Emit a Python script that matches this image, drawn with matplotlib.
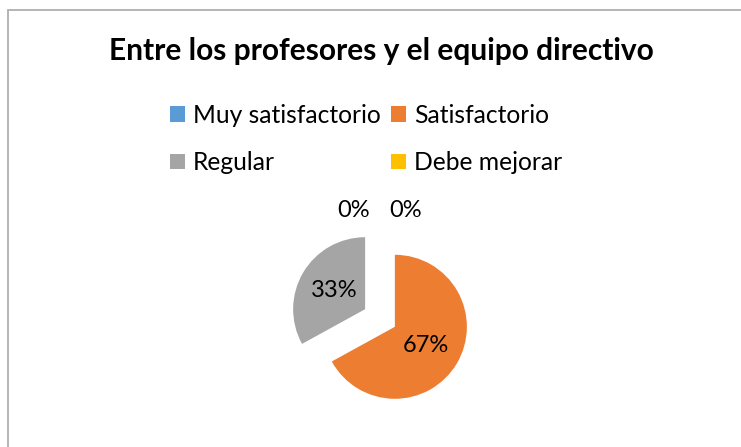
import matplotlib
matplotlib.use("Agg")
import matplotlib.pyplot as plt
from matplotlib.patches import Rectangle, Patch
import numpy as np

title = "Entre los profesores y el equipo directivo"
categories = ["Muy satisfactorio", "Satisfactorio", "Regular", "Debe mejorar"]
values = [0, 67, 33, 0]
colors = ["#5B9BD5", "#ED7D31", "#A5A5A5", "#FFC000"]
explode = [0, 0.24, 0.24, 0]

W, H = 741, 447
fig = plt.figure(figsize=(W / 100, H / 100), dpi=100)
fig.patch.set_facecolor("white")

# chart border (right/bottom edges fall outside the image)
fig.add_artist(Rectangle((8 / W, -0.1), 1.2, (H - 9.5) / H + 0.1,
                         transform=fig.transFigure, fill=False,
                         edgecolor="#AFAFAF", linewidth=1.3))

fam = ["Lato", "DejaVu Sans"]
fig.text(381 / W, 1 - 51 / H, title, ha="center", va="center",
         fontsize=21.5, fontweight="bold", family=fam)

# pie axes: center at (380, 318) px, radius 72 px
cx, cy, r = 380, 318, 72
half = 1.75
ax = fig.add_axes([(cx - half * r) / W, (H - cy - half * r) / H,
                   2 * half * r / W, 2 * half * r / H])

wedges, texts, autotexts = ax.pie(values, colors=colors, explode=explode,
                                  startangle=90, counterclock=False,
                                  autopct="%1.0f%%", pctdistance=0.5,
                                  radius=1.0, wedgeprops=dict(linewidth=0),
                                  textprops=dict(fontsize=17, family=fam, color="#000000"),
                                  frame=False)
ax.set_xlim(-half, half)
ax.set_ylim(-half, half)
ax.set_aspect("equal")
ax.axis("off")
# zero-value labels sit above the pie, side by side
zero_idx = [i for i, v in enumerate(values) if v == 0]
for k, i in enumerate(zero_idx):
    autotexts[i].set_position((-0.37 + 0.73 * k, 1.5))

# legend filled row by row (matplotlib fills by column, so reorder)
order = [0, 2, 1, 3]
handles = [Patch(facecolor=colors[i], edgecolor="none") for i in order]
labels = [categories[i] for i in order]
leg = fig.legend(handles, labels, ncol=2, loc="center",
                 bbox_to_anchor=(366 / W, 1 - 139 / H), frameon=False,
                 prop=dict(family=fam, size=17.75), handlelength=0.6,
                 handleheight=0.6, handletextpad=0.33, columnspacing=0.4,
                 labelspacing=1.0, borderpad=0)

fig.savefig("out.png", dpi=100)
